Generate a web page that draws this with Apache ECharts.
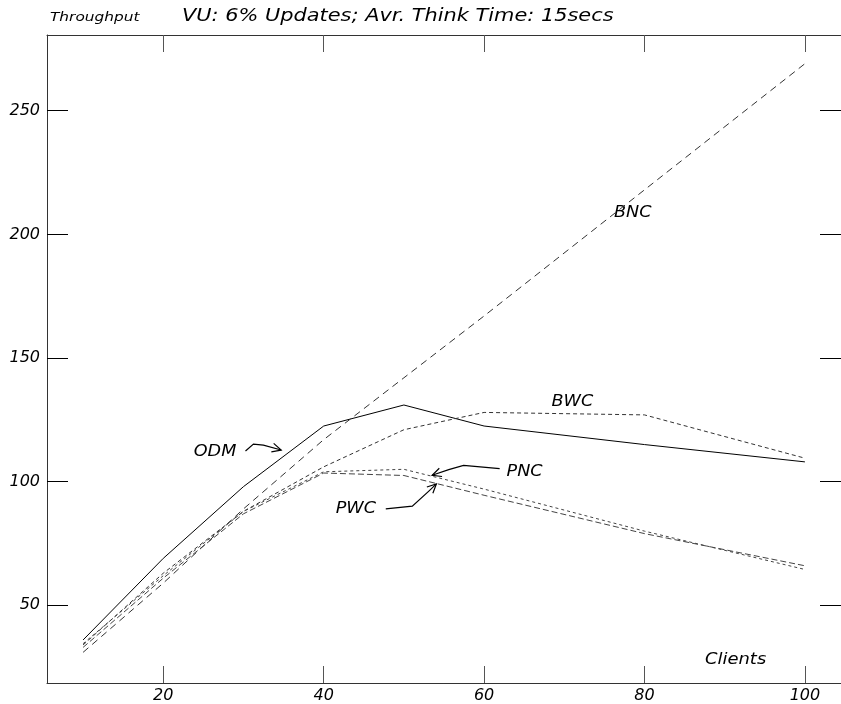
<!DOCTYPE html>
<html>
<head>
<meta charset="utf-8">
<script src="https://cdn.jsdelivr.net/npm/echarts@6/dist/echarts.min.js"></script>
<style>
html,body{margin:0;padding:0;background:#fff}
#chart{width:841px;height:704px}
</style>
</head>
<body>
<div id="chart"></div>
<script>
// clients on the x axis, throughput per series
var clients = [10, 20, 30, 40, 50, 60, 80, 100];
var odm = [36, 69, 98, 122.5, 131, 122.5, 115, 108];
var bnc = [31, 59, 89, 117, 142, 167, 218, 269];
var bwc = [34, 63, 88, 106, 121, 128, 127, 109.5];
var pnc = [34.5, 62, 88, 104, 105, 97, 80, 64.5];
var pwc = [33, 61, 87, 103.5, 102.5, 94.5, 79, 66];

var xTicks = [20, 40, 60, 80, 100];
var yTicks = [50, 100, 150, 200, 250];

// series name tags and leader lines, in data units
var tagNames = ['ODM', 'PNC', 'PWC', 'BWC', 'BNC'];
var tagAt = [[23.8, 112.0], [62.8, 103.9], [41.5, 89.0], [68.4, 132.3], [76.2, 208.6]];
var leaderOdm = [[30.25, 112.4], [31.24, 115.2], [32.48, 114.8], [34.7, 112.8]];
var leaderPnc = [[61.94, 105.25], [57.44, 106.6], [55.59, 104.85], [53.52, 102.6]];
var leaderPwc = [[47.74, 89.0], [51.05, 90.1], [53.11, 96.2], [54.05, 99.1]];

function pairs(vals) {
	return clients.map(function (c, i) { return [c, vals[i]]; });
}

var FONT = 'DejaVu Sans';
var axisCol = '#333';

function mkSeries(name, vals, dash, col) {
	return {
		name: name,
		type: 'line',
		data: pairs(vals),
		symbol: 'none',
		xAxisIndex: 0,
		yAxisIndex: 0,
		lineStyle: {color: col, width: 1, type: dash},
		silent: true
	};
}

var chart = echarts.init(document.getElementById('chart'));
chart.setOption({
	animation: false,
	backgroundColor: '#fff',
	grid: {left: 47, top: 35, width: 800, height: 651},
	xAxis: [
		{
			type: 'value', min: 5.5, max: 104.5, position: 'bottom',
			axisLine: {show: true, lineStyle: {color: axisCol, width: 1}},
			axisTick: {show: true, inside: true, length: 17, customValues: xTicks, lineStyle: {color: '#555'}},
			axisLabel: {show: true, customValues: xTicks, margin: 5, color: '#000', fontSize: 16, fontStyle: 'italic', fontFamily: FONT},
			splitLine: {show: false}
		},
		{
			type: 'value', min: 5.5, max: 104.5, position: 'top',
			axisLine: {show: true, onZero: false, lineStyle: {color: axisCol, width: 1}},
			axisTick: {show: true, inside: true, length: 17, customValues: xTicks, lineStyle: {color: '#555'}},
			axisLabel: {show: false},
			splitLine: {show: false}
		}
	],
	yAxis: [
		{
			type: 'value', min: 18.6, max: 280.6, position: 'left',
			axisLine: {show: true, onZero: false, lineStyle: {color: axisCol, width: 1}},
			axisTick: {show: true, inside: true, length: 21, customValues: yTicks, lineStyle: {color: '#000'}},
			axisLabel: {show: true, customValues: yTicks, margin: 7, color: '#000', fontSize: 16, fontStyle: 'italic', fontFamily: FONT},
			splitLine: {show: false}
		},
		{
			type: 'value', min: 18.6, max: 280.6, position: 'right',
			axisLine: {show: false},
			axisTick: {show: true, inside: true, length: 21, customValues: yTicks, lineStyle: {color: '#000'}},
			axisLabel: {show: false},
			splitLine: {show: false}
		}
	],
	series: [
		mkSeries('ODM', odm, 'solid', '#000'),
		mkSeries('BNC', bnc, [7, 5], '#333'),
		mkSeries('BWC', bwc, [4, 3], '#333'),
		mkSeries('PNC', pnc, [3, 3], '#444'),
		mkSeries('PWC', pwc, [6, 3], '#444')
	]
});

function px(p) {
	return chart.convertToPixel({seriesIndex: 0}, p);
}

function txt(s, x, y, size, sx) {
	return {
		type: 'text', x: x, y: y, scaleX: sx, silent: true,
		style: {text: s, fontSize: size, fontStyle: 'italic', fontFamily: FONT, fill: '#000', align: 'left', verticalAlign: 'middle'}
	};
}

function leader(pts) {
	var p = pts.map(px);
	var n = p.length;
	var tip = p[n - 1], prev = p[n - 2];
	var ang = Math.atan2(tip[1] - prev[1], tip[0] - prev[0]);
	var L = 10, spread = 0.45;
	var a = [tip[0] - L * Math.cos(ang - spread), tip[1] - L * Math.sin(ang - spread)];
	var b = [tip[0] - L * Math.cos(ang + spread), tip[1] - L * Math.sin(ang + spread)];
	return [
		{type: 'polyline', silent: true, shape: {points: p}, style: {stroke: '#000', lineWidth: 1.2, fill: null}},
		{type: 'polyline', silent: true, shape: {points: [a, tip, b]}, style: {stroke: '#000', lineWidth: 1.2, fill: null}}
	];
}

var g = [];
g.push(txt('Throughput', 50, 18, 13, 1.18));
g.push(txt('VU: 6% Updates; Avr. Think Time: 15secs', 182, 16, 18, 1.16));
g.push(txt('Clients', 705, 660, 16, 1.12));
tagNames.forEach(function (nm, i) {
	var p = px(tagAt[i]);
	g.push(txt(nm, p[0], p[1], 16, 1.1));
});
g = g.concat(leader(leaderOdm), leader(leaderPnc), leader(leaderPwc));

chart.setOption({graphic: g});
</script>
</body>
</html>
